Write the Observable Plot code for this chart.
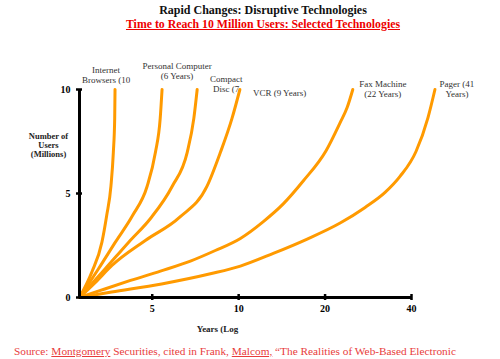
<!DOCTYPE html>
<html><head><meta charset="utf-8">
<script src="https://cdn.jsdelivr.net/npm/d3@7"></script>
<script src="https://cdn.jsdelivr.net/npm/@observablehq/plot@0.6"></script>
<style>
body{margin:0;background:#fff;font-family:"Liberation Serif","Times New Roman",serif;}
#wrap{width:500px;height:359px;position:relative;overflow:hidden;background:#fff;}
#title{height:34px;box-sizing:border-box;padding-top:3px;margin-left:26px;width:474px;text-align:center;}
#t1{font-weight:bold;font-size:12px;line-height:14px;color:#111;}
#t2{font-weight:bold;font-size:11.8px;line-height:14px;color:#e00;}
#t2 span{text-decoration:underline;}
#chart svg{display:block;}
#caption{position:absolute;top:344px;left:14px;font-size:11.3px;line-height:14px;color:#e83c3c;white-space:nowrap;}
#caption u{text-decoration:underline;}
</style></head><body>
<div id="wrap">
  <div id="title"><div id="t1"></div><div id="t2"><span></span></div></div>
  <div id="chart"></div>
  <div id="caption"></div>
</div>
<script>
// ---- data ----
const titleText = "Rapid Changes: Disruptive Technologies";
const subtitleText = "Time to Reach 10 Million Users: Selected Technologies";
const captionParts = [["Source: ", false], ["Montgomery", true], [" Securities, cited in Frank, ", false], ["Malcom,", true], [" \u201CThe Realities of Web-Based Electronic", false]];

const techs = ["Internet Browsers", "Personal Computer", "Compact Disc", "VCR", "Fax Machine", "Pager"];
const labelText = ["Internet\nBrowsers (10", "Personal Computer\n(6 Years)", "Compact\nDisc (7", "VCR (9 Years)", "Fax Machine\n(22 Years)", "Pager (41\nYears)"];

const browsersYears = [2.79, 3.08, 3.34, 3.47, 3.59, 3.66, 3.70, 3.71];
const browsersUsers = [0, 1.22, 2.66, 3.94, 5.35, 6.98, 8.61, 10];
const pcYears = [2.79, 3.25, 3.72, 4.27, 4.80, 5.13, 5.33, 5.41];
const pcUsers = [0, 1.38, 2.66, 3.94, 5.35, 6.98, 8.61, 10];
const cdYears = [2.79, 3.43, 4.14, 4.93, 5.87, 6.62, 6.98, 7.17];
const cdUsers = [0, 1.38, 2.66, 3.80, 5.35, 6.98, 8.61, 10];
const vcrYears = [2.79, 3.17, 3.62, 4.73, 6.22, 7.76, 8.64, 9.48, 10.1];
const vcrUsers = [0, 0.73, 1.54, 2.74, 3.85, 5.35, 6.98, 8.61, 10];
const faxYears = [2.79, 3.30, 4.20, 5.34, 6.79, 8.29, 10.14, 12.19, 14.30, 16.78, 20.18, 22.57, 23.87, 24.98];
const faxUsers = [0, 0.34, 0.82, 1.27, 1.75, 2.26, 2.84, 3.65, 4.50, 5.60, 7.07, 8.41, 9.13, 10];
const pagerYears = [2.79, 3.61, 5.39, 8.04, 10.14, 13.20, 17.33, 22.57, 27.57, 32.36, 36.48, 41.47, 45.66, 48.28];
const pagerUsers = [0, 0.26, 0.65, 1.15, 1.51, 2.12, 2.81, 3.58, 4.33, 5.05, 5.82, 7.02, 8.65, 10];

const xTicks = [5, 10, 20, 40];
const yTicks = [0, 5, 10];
const xDomain = [2.79, 40];
const yDomain = [0, 10];
const yLabel = "Number of\nUsers\n(Millions)";
const xLabel = "Years (Log";

// ---- build ----
const yearsSeries = [browsersYears, pcYears, cdYears, vcrYears, faxYears, pagerYears];
const usersSeries = [browsersUsers, pcUsers, cdUsers, vcrUsers, faxUsers, pagerUsers];
const rows = techs.flatMap((t, i) => yearsSeries[i].map((x, j) => ({tech: t, years: x, users: usersSeries[i][j]})));
const ends = techs.map((t, i) => ({tech: t, label: labelText[i], years: yearsSeries[i][yearsSeries[i].length - 1], users: usersSeries[i][usersSeries[i].length - 1]}));

const labelStyle = [
  {dx: -9, dy: -15, textAnchor: "middle"},
  {dx: 15, dy: -19, textAnchor: "middle"},
  {dx: 29, dy: -6, textAnchor: "middle"},
  {dx: 13, dy: 3, textAnchor: "start"},
  {dx: 30, dy: -1, textAnchor: "middle"},
  {dx: 22, dy: -1, textAnchor: "middle"}
];

document.getElementById("t1").textContent = titleText;
document.querySelector("#t2 span").textContent = subtitleText;
const cap = document.getElementById("caption");
captionParts.forEach(([s, u]) => {
  const el = document.createElement(u ? "u" : "span");
  el.textContent = s;
  cap.appendChild(el);
});

const serif = "Liberation Serif, Times New Roman, serif";
const chart = Plot.plot({
  width: 500,
  height: 306,
  marginTop: 55,
  marginBottom: 43,
  marginLeft: 79,
  marginRight: 89,
  style: {fontFamily: serif, background: "white", overflow: "visible", color: "black"},
  x: {type: "log", domain: xDomain},
  y: {type: "linear", domain: yDomain},
  marks: [
    Plot.line(rows, {x: "years", y: "users", z: "tech", stroke: "#ff9a00", strokeWidth: 3, curve: "monotone-x"}),
    Plot.ruleY([yDomain[0]], {stroke: "black", strokeWidth: 3}),
    Plot.ruleX([xDomain[0]], {stroke: "black", strokeWidth: 3}),
    Plot.axisX({ticks: xTicks, tickFormat: d => String(d), tickSize: 6, dy: -3, tickPadding: 4, strokeWidth: 2.5, fontSize: 10, fontWeight: "bold", label: null}),
    Plot.axisY({ticks: yTicks, tickFormat: d => String(d), tickSize: 6, dx: 3, tickPadding: 6, strokeWidth: 2.5, fontSize: 10, fontWeight: "bold", label: null}),
    ...ends.map((e, i) => Plot.text([e], {x: "years", y: "users", text: "label", lineAnchor: "middle", lineHeight: 1.1, fontSize: 9, fill: "#333", ...labelStyle[i]})),
    Plot.text([yLabel], {frameAnchor: "top-left", dx: -31, dy: 56, textAnchor: "middle", lineAnchor: "middle", lineHeight: 1.05, fontSize: 8.5, fontWeight: "bold", fill: "#222"}),
    Plot.text([xLabel], {frameAnchor: "bottom", dx: -28, dy: 34, textAnchor: "middle", fontSize: 9, fontWeight: "bold", fill: "#222"})
  ]
});
document.getElementById("chart").appendChild(chart);
</script>
</body></html>
